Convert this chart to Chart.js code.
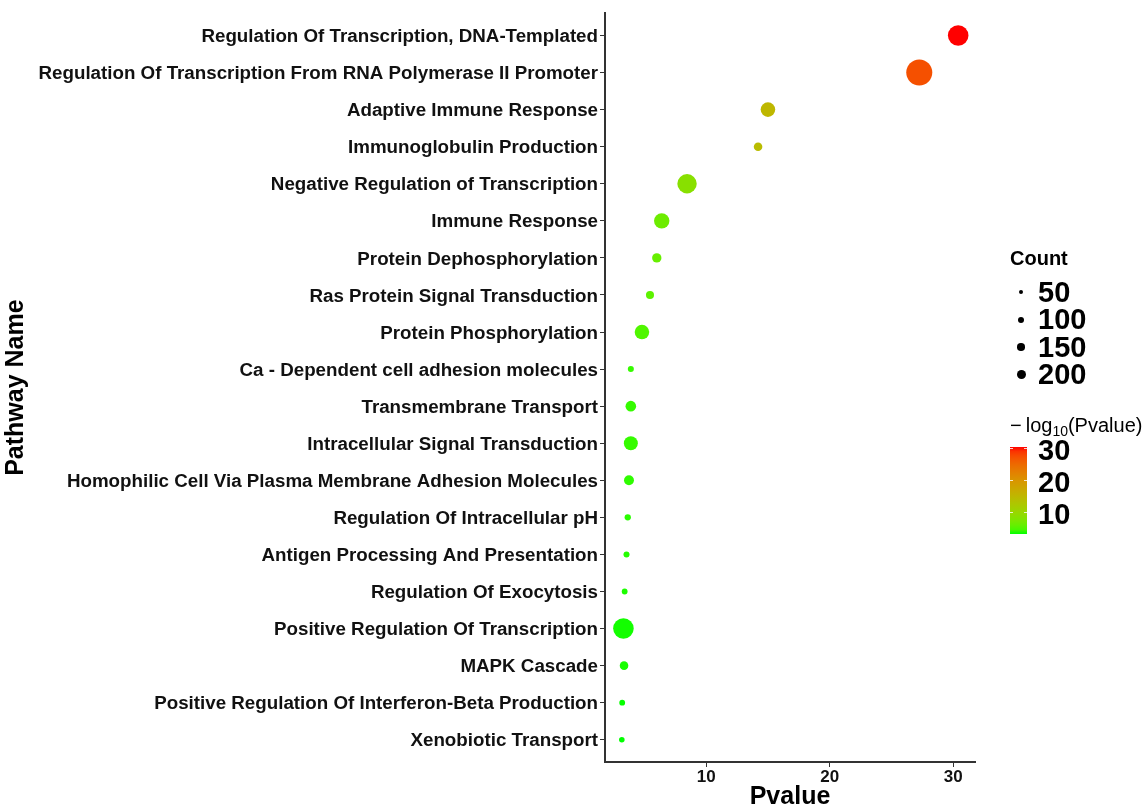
<!DOCTYPE html>
<html>
<head>
<meta charset="utf-8">
<script src="https://cdn.jsdelivr.net/npm/chart.js@4"></script>
<style>
  html, body { margin: 0; padding: 0; background: #fff; }
  #wrap { position: relative; width: 1146px; height: 810px; font-family: "Liberation Sans", Arial, sans-serif; }
  #c { position: absolute; left: 0; top: 0; }
  .lg { position: absolute; color: #000; white-space: nowrap; line-height: 1; }
  .dot { position: absolute; background: #000; border-radius: 50%; }
</style>
</head>
<body>
<div id="wrap">
  <canvas id="c" width="1146" height="810"></canvas>
  <div id="legend"></div>
</div>
<script>
// ---- data ----
const pathways = [
  "Regulation Of Transcription, DNA-Templated",
  "Regulation Of Transcription From RNA Polymerase II Promoter",
  "Adaptive Immune Response",
  "Immunoglobulin Production",
  "Negative Regulation of Transcription",
  "Immune Response",
  "Protein Dephosphorylation",
  "Ras Protein Signal Transduction",
  "Protein Phosphorylation",
  "Ca - Dependent cell adhesion molecules",
  "Transmembrane Transport",
  "Intracellular Signal Transduction",
  "Homophilic Cell Via Plasma Membrane Adhesion Molecules",
  "Regulation Of Intracellular pH",
  "Antigen Processing And Presentation",
  "Regulation Of Exocytosis",
  "Positive Regulation Of Transcription",
  "MAPK Cascade",
  "Positive Regulation Of Interferon-Beta Production",
  "Xenobiotic Transport"
];
const pvalues = [30.4, 27.25, 15.0, 14.2, 8.45, 6.4, 6.0, 5.45, 4.8, 3.9,
                 3.9, 3.9, 3.75, 3.65, 3.55, 3.4, 3.3, 3.35, 3.2, 3.17];
const counts = [150, 240, 75, 26, 133, 84, 31, 23, 75, 13,
                40, 69, 35, 14, 13, 12, 150, 26, 12, 11];
const xTicks = [10, 20, 30];
const sizeBreaks = [50, 100, 150, 200];
const colorBreaks = [30, 20, 10];

// ---- colour scale (CIELAB interpolation green -> red) ----
function toLin(c){ c/=255; return c<=0.04045? c/12.92 : Math.pow((c+0.055)/1.055,2.4); }
function fromLin(c){ const v = c<=0.0031308? 12.92*c : 1.055*Math.pow(c,1/2.4)-0.055; return Math.round(Math.max(0,Math.min(1,v))*255); }
const Xn=0.95047, Yn=1, Zn=1.08883;
function f(t){ return t>0.008856? Math.cbrt(t) : 7.787*t+16/116; }
function fi(t){ return t>0.206893? t*t*t : (t-16/116)/7.787; }
function rgb2lab([r,g,b]){
  r=toLin(r); g=toLin(g); b=toLin(b);
  const X=(0.4124*r+0.3576*g+0.1805*b)/Xn, Y=(0.2126*r+0.7152*g+0.0722*b)/Yn, Z=(0.0193*r+0.1192*g+0.9505*b)/Zn;
  return [116*f(Y)-16, 500*(f(X)-f(Y)), 200*(f(Y)-f(Z))];
}
function lab2rgb([L,a,bb]){
  const fy=(L+16)/116, fx=fy+a/500, fz=fy-bb/200;
  const X=fi(fx)*Xn, Y=fi(fy)*Yn, Z=fi(fz)*Zn;
  const r= 3.2406*X-1.5372*Y-0.4986*Z, g=-0.9689*X+1.8758*Y+0.0415*Z, b=0.0557*X-0.2040*Y+1.0570*Z;
  return [fromLin(r),fromLin(g),fromLin(b)];
}
const LOW = rgb2lab([0,255,0]), HIGH = rgb2lab([255,0,0]);
const vMin = Math.min(...pvalues), vMax = Math.max(...pvalues);
function colorFor(v){
  const t = Math.max(0, Math.min(1, (v-vMin)/(vMax-vMin)));
  const lab = LOW.map((l,i)=> l + (HIGH[i]-l)*t);
  const [r,g,b] = lab2rgb(lab);
  return `rgb(${r},${g},${b})`;
}
function radiusFor(c){ return 0.84*Math.sqrt(c); }

// ---- chart ----
const FONT = "'Liberation Sans', Arial, sans-serif";
const xPad = (vMax - vMin) * 0.05;

new Chart(document.getElementById('c'), {
  type: 'bubble',
  data: {
    datasets: [{
      data: pathways.map((p,i)=>({x: pvalues[i], y: i, r: radiusFor(counts[i])})),
      backgroundColor: pvalues.map(colorFor),
      borderWidth: 0,
      hoverBorderWidth: 0
    }]
  },
  options: {
    responsive: false,
    animation: false,
    events: [],
    layout: { padding: { left: 0, top: 12, right: 171, bottom: 0 } },
    plugins: { legend: { display: false }, tooltip: { enabled: false } },
    scales: {
      x: {
        type: 'linear',
        min: vMin - xPad,
        max: vMax + xPad,
        afterBuildTicks: s => { s.ticks = xTicks.map(v=>({value:v})); },
        afterFit: s => { s.height = 48; },
        grid: { drawOnChartArea: false, drawTicks: true, tickLength: 5, color: '#333', lineWidth: 1 },
        border: { display: true, color: '#333', width: 2 },
        ticks: { font: { family: FONT, size: 17, weight: 'bold' }, color: '#111', padding: 0 },
        title: { display: true, text: 'Pvalue', color: '#000',
                 font: { family: FONT, size: 25, weight: 'bold', lineHeight: 1 }, padding: { top: 0, bottom: 0 } }
      },
      y: {
        type: 'linear',
        reverse: true,
        min: -0.6,
        max: pathways.length - 1 + 0.6,
        afterBuildTicks: s => { s.ticks = pathways.map((p,i)=>({value:i})); },
        afterFit: s => { s.width = 605; },
        grid: { drawOnChartArea: false, drawTicks: true, tickLength: 5, color: '#333', lineWidth: 1 },
        border: { display: true, color: '#333', width: 2 },
        ticks: { autoSkip: false, font: { family: FONT, size: 18.75, weight: 'bold' }, color: '#111', padding: 2,
                 labelOffset: 1.5, callback: v => pathways[v] },
        title: { display: true, text: 'Pathway Name', color: '#000',
                 font: { family: FONT, size: 25, weight: 'bold', lineHeight: 1 }, padding: { top: 4, bottom: 0 } }
      }
    }
  }
});

// ---- legends (HTML) ----
const lg = document.getElementById('legend');
function addText(html, left, cy, size, weight){
  const d = document.createElement('div');
  d.className = 'lg';
  d.innerHTML = html;
  d.style.left = left + 'px';
  d.style.top = (cy - size*0.52) + 'px';
  d.style.fontSize = size + 'px';
  d.style.fontWeight = weight;
  lg.appendChild(d);
  return d;
}
addText('Count', 1010, 258, 20, 'bold');
const legendDotR = [2, 3, 3.75, 4.5];
sizeBreaks.forEach((b,i)=>{
  const cy = 292 + i*27.5;
  const r = legendDotR[i];
  const d = document.createElement('div');
  d.className = 'dot';
  d.style.left = (1021 - r) + 'px';
  d.style.top = (cy - r) + 'px';
  d.style.width = d.style.height = (2*r) + 'px';
  lg.appendChild(d);
  addText(String(b), 1038, cy + 1, 29, 'bold');
});
addText('\u2212\u2009log<sub style="font-size:14px;vertical-align:-4px">10</sub>(Pvalue)', 1010, 425, 20, 'normal');

// colour bar
const barTop = 447, barH = 87, barLeft = 1010, barW = 17;
const stops = [];
for (let k=0;k<=20;k++){ const v = vMax - (vMax-vMin)*k/20; stops.push(`${colorFor(v)} ${(k*5)}%`); }
const bar = document.createElement('div');
bar.style.cssText = `position:absolute;left:${barLeft}px;top:${barTop}px;width:${barW}px;height:${barH}px;background:linear-gradient(to bottom, ${stops.join(',')});`;
lg.appendChild(bar);
colorBreaks.forEach(b=>{
  const y = barTop + (vMax - b)/(vMax - vMin)*barH;
  [barLeft, barLeft + barW - 3].forEach(x=>{
    const t = document.createElement('div');
    t.style.cssText = `position:absolute;left:${x}px;top:${y-0.5}px;width:3px;height:1px;background:rgba(255,255,255,0.8);`;
    lg.appendChild(t);
  });
  addText(String(b), 1038, y + 2.5, 29, 'bold');
});
</script>
</body>
</html>
